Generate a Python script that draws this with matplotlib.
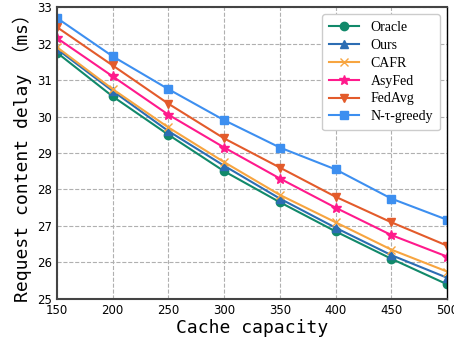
import matplotlib
matplotlib.use("Agg")
import matplotlib.pyplot as plt

# data
cache = [150, 200, 250, 300, 350, 400, 450, 500]
oracle = [31.75, 30.55, 29.5, 28.5, 27.65, 26.85, 26.1, 25.4]
ours = [31.85, 30.7, 29.6, 28.65, 27.75, 26.95, 26.2, 25.58]
cafr = [31.9, 30.75, 29.7, 28.75, 27.85, 27.1, 26.35, 25.75]
asyfed = [32.15, 31.1, 30.05, 29.15, 28.3, 27.5, 26.75, 26.16]
fedavg = [32.45, 31.4, 30.35, 29.4, 28.6, 27.8, 27.1, 26.46]
greedy = [32.7, 31.65, 30.75, 29.9, 29.15, 28.55, 27.75, 27.17]

fig = plt.figure(figsize=(4.54, 3.40), dpi=100)
ax = fig.add_axes([0.1256, 0.121, 0.859, 0.858])

ax.plot(cache, oracle, color='#11896a', marker='o', ms=6, lw=1.5, label='Oracle')
ax.plot(cache, ours, color='#2c6db3', marker='^', ms=6, lw=1.5, label='Ours')
ax.plot(cache, cafr, color='#f7a540', marker='x', ms=6, lw=1.5, label='CAFR')
ax.plot(cache, asyfed, color='#ff1a8c', marker='*', ms=7, lw=1.5, label='AsyFed')
ax.plot(cache, fedavg, color='#e35b2b', marker='v', ms=6, lw=1.5, label='FedAvg')
ax.plot(cache, greedy, color='#3d8ff0', marker='s', ms=6, lw=1.5, label='N-τ-greedy')

ax.set_xlim(150, 500)
ax.set_ylim(25, 33)
ax.set_xticks(cache)
ax.set_yticks(range(25, 34))
ax.tick_params(labelsize=8.5, direction='in', length=0)
ax.grid(True, linestyle='--', color='#b0b0b0', lw=0.8)

for s in ['left', 'bottom', 'top']:
    ax.spines[s].set_color('#444444')
    ax.spines[s].set_linewidth(1.5)
ax.spines['right'].set_color('black')
ax.spines['right'].set_linewidth(1.0)

ax.set_xlabel('Cache capacity', fontsize=13, family=['DejaVu Sans Mono', 'Noto Sans CJK SC'], labelpad=2)
ax.set_ylabel('Request content delay （ms）', fontsize=13, family=['DejaVu Sans Mono', 'Noto Sans CJK SC'], labelpad=4)

ax.legend(loc='upper right', prop={'family': 'Liberation Serif', 'size': 10},
          framealpha=1, edgecolor='#cccccc', handlelength=2.2, borderpad=0.5,
          labelspacing=0.35)

fig.savefig('out.png', dpi=100)
